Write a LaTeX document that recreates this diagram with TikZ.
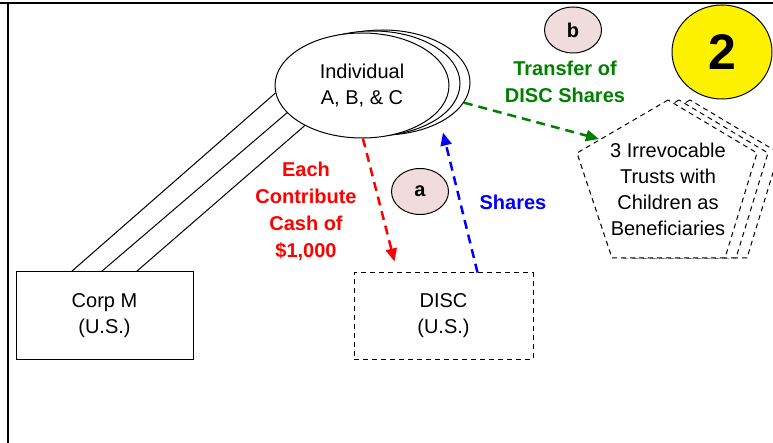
\documentclass[tikz,border=0pt]{standalone}
\usepackage{fontspec}
\setmainfont{Liberation Sans}
\usetikzlibrary{shapes.geometric,arrows.meta,calc}
\definecolor{pinkfill}{RGB}{240,220,220}
\definecolor{dgreen}{RGB}{0,128,0}
\tikzset{
 txt/.style={font=\fontsize{20}{26}\selectfont, align=center},
 btxt/.style={font=\fontsize{20}{27}\selectfont\bfseries, align=center},
 person/.style={ellipse, draw, line width=1pt, fill=white, minimum width=174pt, minimum height=105pt, inner sep=0pt},
 box/.style={rectangle, draw, line width=1pt, minimum width=177pt, minimum height=87pt, inner sep=0pt, txt},
 dbox/.style={box, dash pattern=on 5pt off 4pt, minimum width=179pt, minimum height=86pt},
 flow/.style={line width=2.5pt, dash pattern=on 9pt off 6pt, -{Triangle[length=13pt,width=11pt]}},
 tag/.style={ellipse, draw, line width=1pt, fill=pinkfill, minimum width=57pt, minimum height=46pt, inner sep=0pt, btxt},
 own/.style={line width=1pt},
 trustedge/.style={draw, line width=1pt, dash pattern=on 5pt off 4pt, fill=white, line join=miter},
 frame/.style={line width=2pt},
}
\begin{document}
\begin{tikzpicture}[x=1pt,y=-1pt]
\useasboundingbox (0,0) rectangle (773,443);
% frame
\draw[frame] (0,3.5) -- (773,3.5);
\draw[frame] (7.5,3.5) -- (7.5,443);
% individuals
\node[person] (i3) at (383,82.5) {};
\node[person] (i2) at (373,83.5) {};
\node[person, txt] (indiv) at (362,85.5) {Individual\\A, B, \& C};
% boxes
\node[box] (corp) at (104.5,315.5) {Corp M\\(U.S.)};
\node[dbox] (disc) at (443.5,316) {DISC\\(U.S.)};
% ownership lines
\draw[own] ([xshift=56pt]corp.north west) -- (indiv.185);
\draw[own] ([xshift=86pt]corp.north west) -- (indiv.200);
\draw[own] ([xshift=121pt]corp.north west) -- (indiv.215);
% trusts
\foreach \dx in {22,11,0}
  \draw[trustedge] (668+\dx,100) -- (577+\dx,153) -- (612+\dx,258) -- (725+\dx,258) -- (757+\dx,153) -- cycle;
\node[txt] (trust) at (668,189) {3 Irrevocable\\Trusts with\\Children as\\Beneficiaries};
\coordinate (g2) at (599,139);
% labels
\node[btxt, text=red] (cash) at (306,211) {Each\\Contribute\\Cash of\\\$1,000};
\node[btxt, text=blue] (shares) at (513,202) {Shares};
\node[btxt, text=dgreen] (xfer) at (565,82) {Transfer of\\DISC Shares};
\node[tag] (a) at (420,191.5) {a};
\node[tag] (b) at (573,30) {b};
\node[ellipse, draw, line width=1pt, fill=yellow, minimum width=100pt, minimum height=94pt, inner sep=0pt, font=\fontsize{50}{50}\selectfont\bfseries] (two) at (722,52) {2};
% flows
\draw[flow, red] (indiv.271) -- ([xshift=41pt,yshift=11pt]disc.north west);
\draw[flow, blue] ([xshift=124pt]disc.north west) -- ([xshift=81pt,yshift=-47pt]indiv.center);
\draw[flow, dgreen] (i3.-14) -- (g2);
\end{tikzpicture}
\end{document}
